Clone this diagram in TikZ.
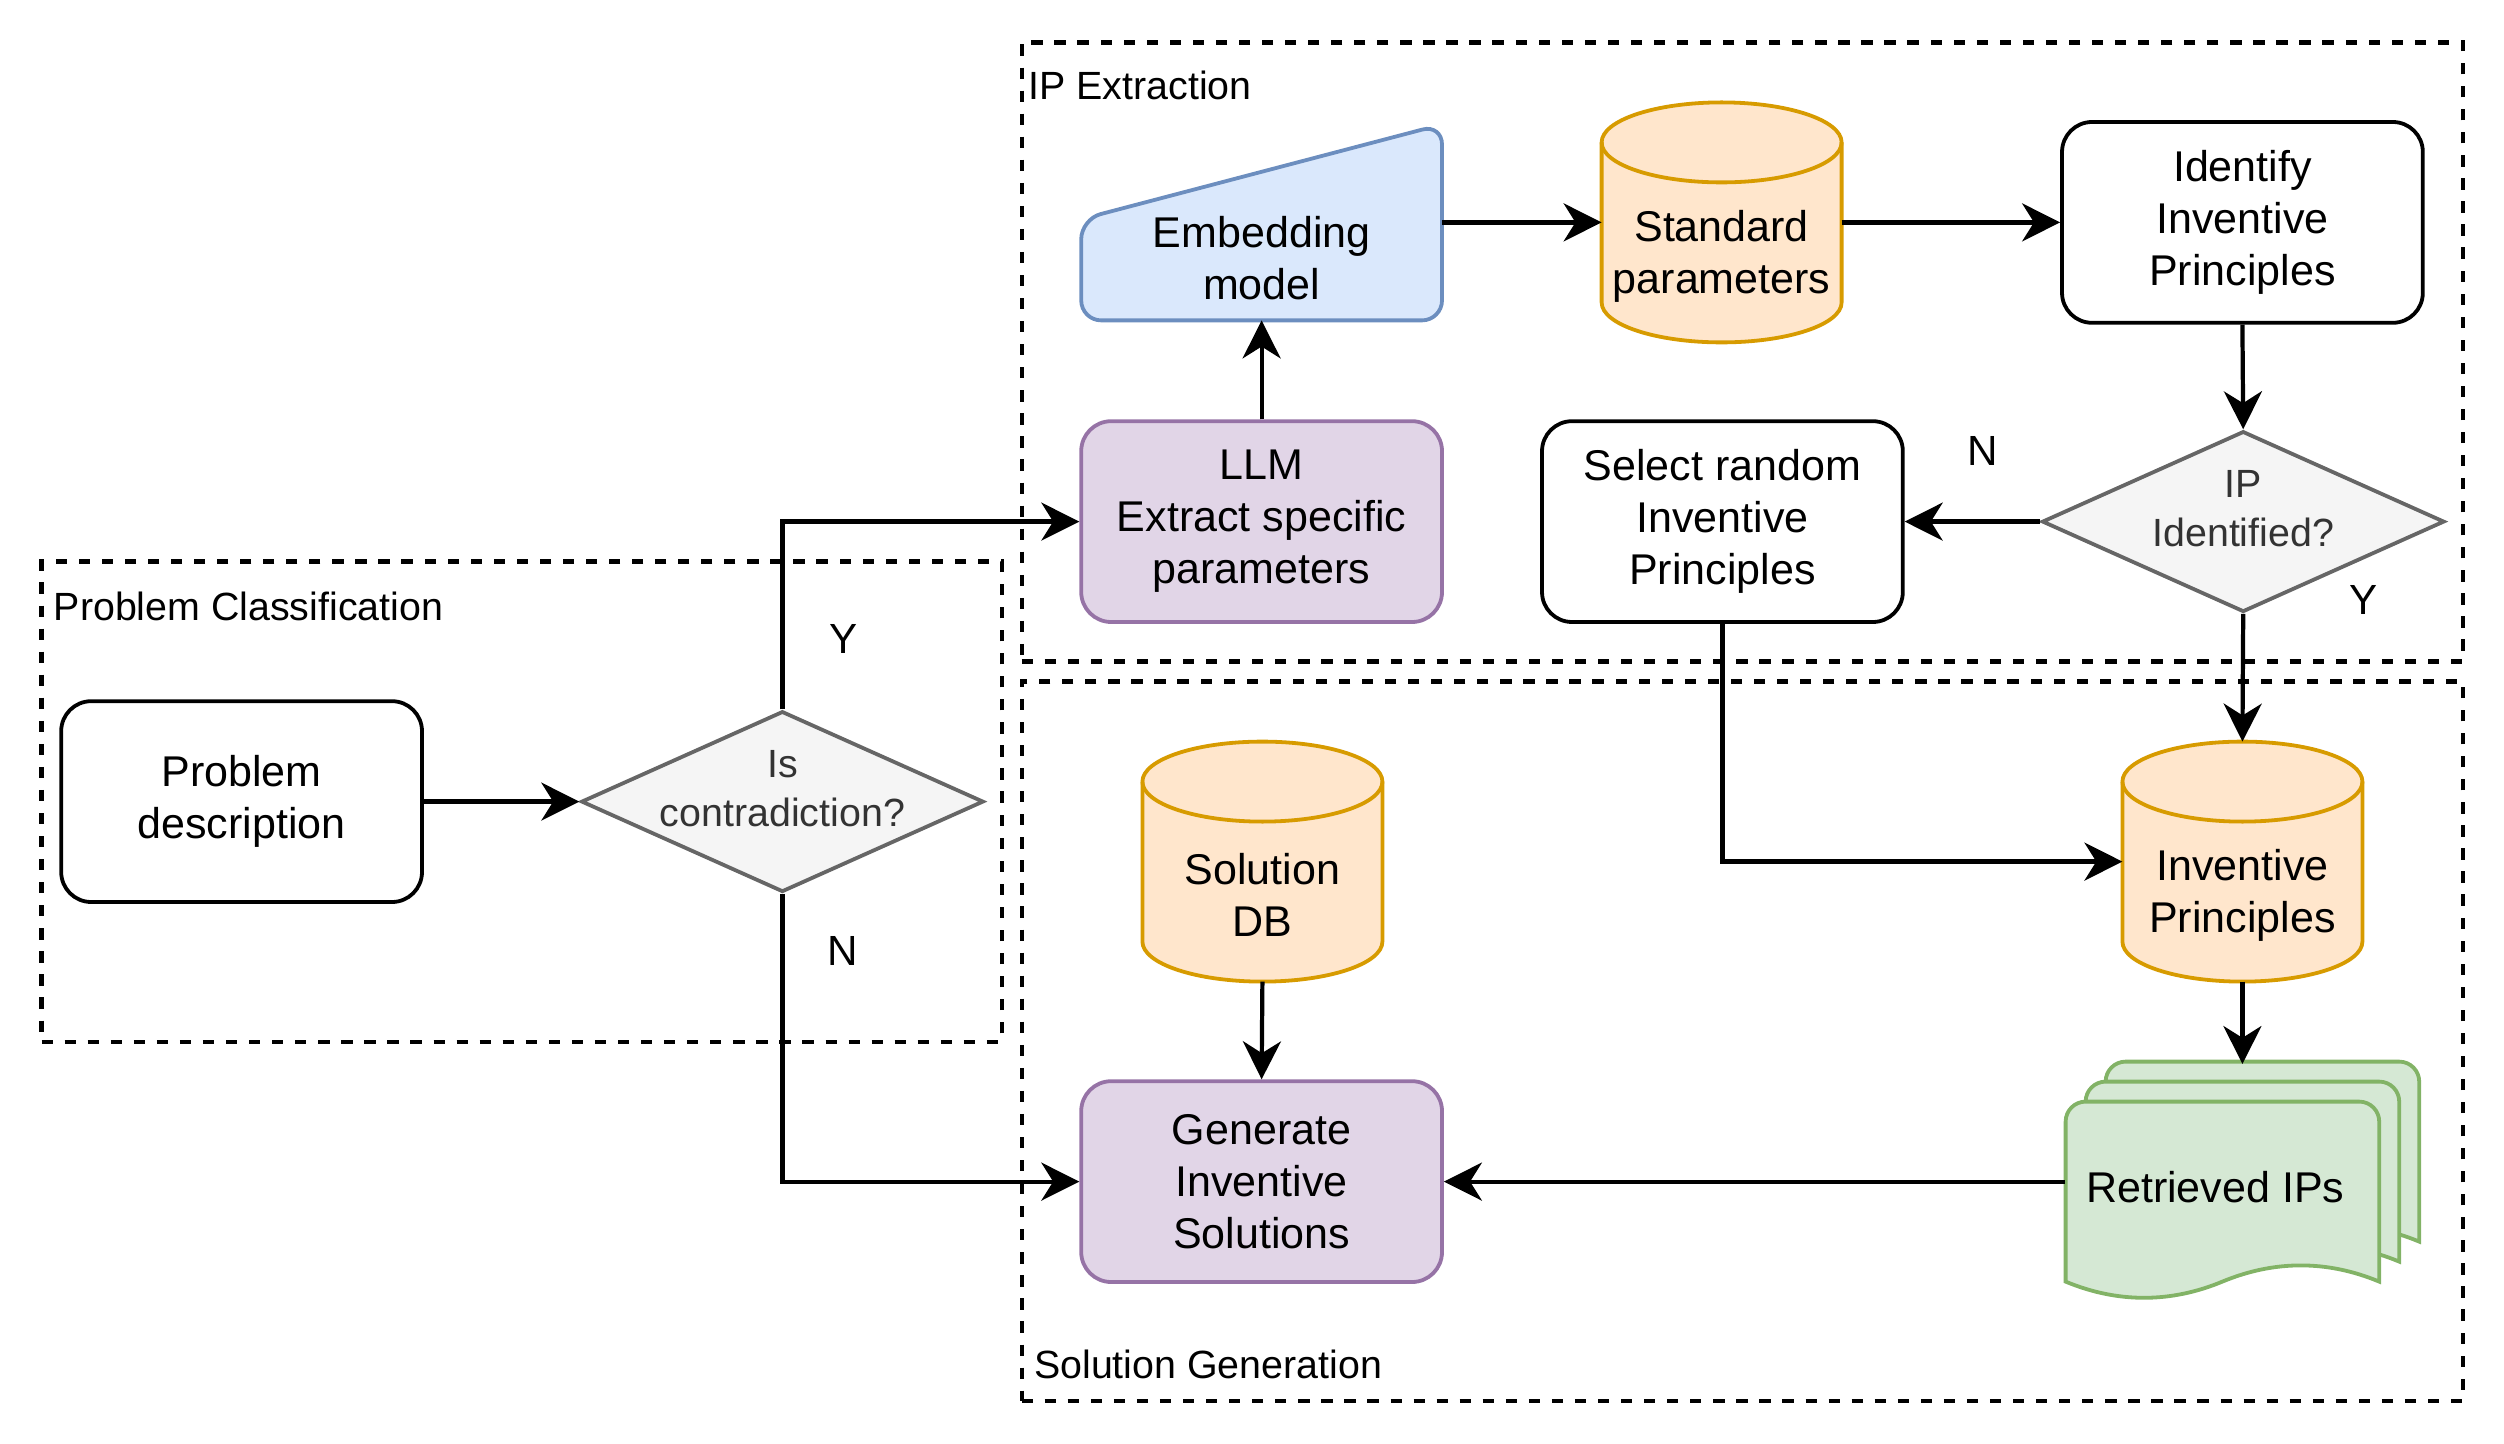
\documentclass[tikz,border=0pt]{standalone}
\usepackage{fontspec}
\setmainfont{Liberation Sans}
\usepackage{tikz}
\usetikzlibrary{shapes}
\usetikzlibrary{positioning}
\usetikzlibrary{arrows.meta}
\usetikzlibrary{backgrounds}
\definecolor{bluefill}{HTML}{DAE8FC}
\definecolor{blueline}{HTML}{6C8EBF}
\definecolor{orangefill}{HTML}{FFE6CC}
\definecolor{orangeline}{HTML}{D79B00}
\definecolor{purplefill}{HTML}{E1D5E7}
\definecolor{purpleline}{HTML}{9673A6}
\definecolor{greenfill}{HTML}{D5E8D4}
\definecolor{greenline}{HTML}{82B366}
\definecolor{grayfill}{HTML}{F5F5F5}
\definecolor{grayline}{HTML}{666666}
\definecolor{graytext}{HTML}{333333}
\tikzset{
    group/.style = {rectangle, draw=black, line width=1.5pt, dash pattern=on 4pt off 4.2pt, minimum width=18.02cm, inner sep=0pt},
    grouplabel/.style = {inner sep=0pt, anchor=base west, font=\fontsize{14}{17}\selectfont},
    mybox/.style = {rectangle, rounded corners=0.375cm, line width=1.35pt, draw=black, fill=white, minimum width=4.51cm, minimum height=2.51cm, align=center, inner sep=0pt, font=\fontsize{15.3}{18.5}\selectfont},
    myboxp/.style = {mybox, draw=purpleline, fill=purplefill},
    mydecision/.style = {diamond, line width=1.35pt, draw=grayline, fill=grayfill, minimum width=5.03cm, minimum height=2.26cm, inner sep=0pt},
    decisiontext/.style = {align=center, text=graytext, yshift=0.16cm, font=\fontsize{14}{17.3}\selectfont},
    mydb/.style = {rectangle, minimum width=3cm, minimum height=3cm, inner sep=0pt, outer sep=0pt},
    dbtext/.style = {align=center, yshift=-0.42cm, font=\fontsize{15.3}{18.5}\selectfont},
    dbline/.style = {line width=1.35pt, draw=orangeline, fill=orangefill},
    embbox/.style = {rectangle, minimum width=4.51cm, minimum height=2.45cm, inner sep=0pt, outer sep=0pt},
    embtext/.style = {align=center, yshift=-0.45cm, font=\fontsize{15.3}{18.5}\selectfont},
    embline/.style = {line width=1.35pt, draw=blueline, fill=bluefill},
    docbox/.style = {rectangle, minimum width=4.43cm, minimum height=2.94cm, inner sep=0pt, outer sep=0pt},
    doctext/.style = {xshift=-0.34cm, yshift=-0.07cm, font=\fontsize{15.3}{18.5}\selectfont},
    docline/.style = {line width=1.35pt, draw=greenline, fill=greenfill},
    yesno/.style = {inner sep=0pt, font=\fontsize{15}{18}\selectfont},
    edgea/.style = {-{Stealth[length=13.5pt,width=13.5pt,inset=4.2pt]}, line width=1.5pt}
}
\begin{document}
\begin{tikzpicture}
\useasboundingbox (0,0) rectangle (31.3,-18.05);
%
\node[group, minimum height=7.74cm] (ipx) at (21.78,-4.40) {};
\node[group, minimum width=12cm, minimum height=6cm] (pcl) at (6.52,-10.02) {};
\node[group, minimum height=8.99cm] (sgen) at (21.78,-13.015) {};
\node[grouplabel] (ipxlabel) at (12.85,-1.24) {IP Extraction};
\node[grouplabel] (pcllabel) at (0.665,-7.75) {Problem Classification};
\node[grouplabel] (sgenlabel) at (12.92,-17.225) {Solution Generation};
%
\node[mybox] (pd) at (3.02,-10.02) {Problem\\description};
\node[mydecision, label={[decisiontext]center:Is\\contradiction?}] (isc) at (9.78,-10.02) {};
\node[myboxp] (llm) at (15.77,-6.52) {LLM\\Extract specific\\parameters};
\node[embbox, label={[embtext]center:Embedding\\model}] (emb) at (15.77,-2.78) {};
\node[mydb, label={[dbtext]center:Standard\\parameters}] (stdp) at (21.52,-2.78) {};
\node[mybox] (ident) at (28.03,-2.78) {Identify\\Inventive\\Principles};
\node[mydecision, label={[decisiontext]center:IP\\Identified?}] (ipq) at (28.04,-6.52) {};
\node[mybox] (rand) at (21.53,-6.52) {Select random\\Inventive\\Principles};
\node[mydb, label={[dbtext]center:Solution\\DB}] (soldb) at (15.78,-10.77) {};
\node[mydb, label={[dbtext]center:Inventive\\Principles}] (ipdb) at (28.03,-10.77) {};
\node[myboxp] (gen) at (15.77,-14.77) {Generate\\Inventive\\Solutions};
\node[docbox, label={[doctext]center:Retrieved IPs}] (ret) at (28.03,-14.77) {};
%
\node[yesno] (ycon) at (10.54,-7.99) {Y};
\node[yesno] (ncon) at (10.53,-11.89) {N};
\node[yesno] (nip) at (24.78,-5.64) {N};
\node[yesno] (yip) at (29.54,-7.50) {Y};
%
\begin{scope}[on background layer]
\draw[embline] (emb.south) [rounded corners=0.25cm] -- (emb.south west) -- ([yshift=0.04cm]emb.west) -- (emb.north east) -- (emb.south east) -- cycle;
\foreach \c in {stdp,soldb,ipdb}{
  \draw[dbline] ([yshift=-0.5cm]\c.north west) -- ([yshift=0.5cm]\c.south west) arc[start angle=180, end angle=360, x radius=1.5cm, y radius=0.5cm] -- ([yshift=-0.5cm]\c.north east) arc[start angle=0, end angle=180, x radius=1.5cm, y radius=0.5cm] -- cycle;
  \draw[dbline, fill=none] ([yshift=-0.5cm]\c.north west) arc[start angle=180, end angle=360, x radius=1.5cm, y radius=0.5cm];
}
\foreach \o in {0.5,0.25,0}{
  \draw[docline, xshift=\o cm, yshift=\o cm] (25.82,-16.02) [rounded corners=0.25cm] -- (25.82,-13.77) -- (29.74,-13.77) [sharp corners] -- (29.74,-16.02) .. controls (29.09,-15.75) and (28.43,-15.75) .. (27.78,-16.02) .. controls (27.13,-16.29) and (26.47,-16.29) .. (25.82,-16.02) -- cycle;
}
\end{scope}
%
\draw[edgea] (pd.east) -- (isc.west);
\draw[edgea] (isc.north) |- (llm.west);
\draw[edgea] (isc.south) |- (gen.west);
\draw[edgea] (llm.north) -- (emb.south);
\draw[edgea] (emb.east) -- (stdp.west);
\draw[edgea] (stdp.east) -- (ident.west);
\draw[edgea] (ident.south) -- (ipq.north);
\draw[edgea] (ipq.west) -- (rand.east);
\draw[edgea] (ipq.south) -- (ipdb.north);
\draw[edgea] (rand.south) |- (ipdb.west);
\draw[edgea] (ipdb.south) -- (ret.north);
\draw[edgea] (soldb.south) -- (gen.north);
\draw[edgea] (ret.west) -- (gen.east);
\end{tikzpicture}
\end{document}
